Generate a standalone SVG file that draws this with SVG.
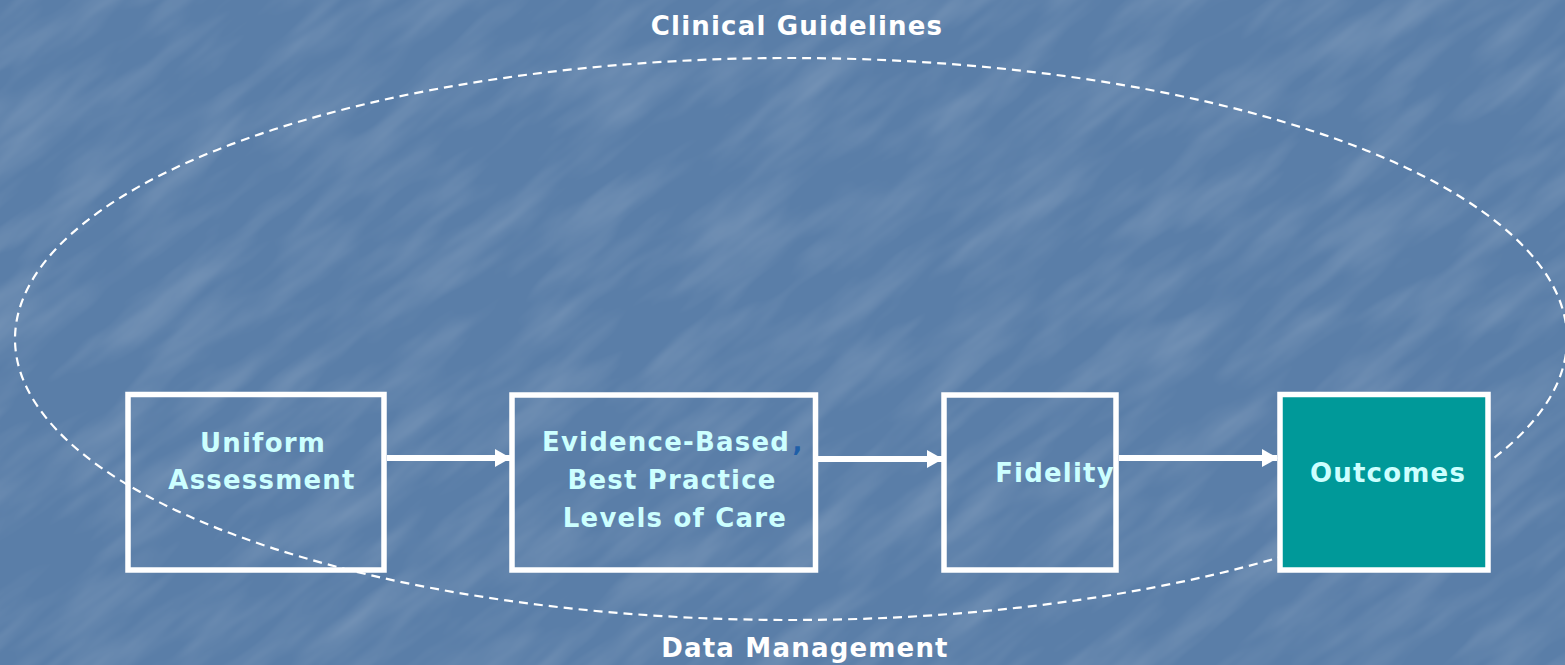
<svg xmlns="http://www.w3.org/2000/svg" width="1565" height="665" viewBox="0 0 1565 665">
  <defs>
    <style>
      .label { font-family: "DejaVu Sans", Verdana, sans-serif; font-weight: bold; font-size: 26px; letter-spacing: 1.2px; text-anchor: middle; }
      .box-text { fill: #ccffff; }
      .title { fill: #ffffff; }
      .box { fill: none; stroke: #ffffff; stroke-width: 5.5; }
      .box-filled { fill: #009999; stroke: #ffffff; stroke-width: 5.5; }
      .arrow { stroke: #ffffff; stroke-width: 6; fill: none; }
      .boundary { fill: none; stroke: #ffffff; stroke-width: 2.2; stroke-dasharray: 9 6; }
    </style>
    <!-- faint diagonal streaks for the backdrop -->
    <filter id="grain" x="0" y="0" width="100%" height="100%">
      <feTurbulence type="fractalNoise" baseFrequency="0.008 0.035" numOctaves="3" seed="11" result="noise"/>
      <feColorMatrix in="noise" type="matrix" values="0 0 0 0 1  0 0 0 0 1  0 0 0 0 1  0 0 0 0.28 -0.11"/>
    </filter>
    <clipPath id="canvas">
      <rect x="0" y="0" width="1565" height="665"/>
    </clipPath>
    <marker id="head" viewBox="0 0 16 18" refX="15" refY="9" markerWidth="16" markerHeight="18" markerUnits="userSpaceOnUse" orient="auto">
      <path d="M0,0 L16,9 L0,18 Z" fill="#ffffff"/>
    </marker>
  </defs>

  <!-- backdrop -->
  <rect x="0" y="0" width="1565" height="665" fill="#5a7ea8"/>
  <g clip-path="url(#canvas)">
    <rect x="-600" y="-900" width="2800" height="2400" filter="url(#grain)" transform="rotate(-38 782 332)"/>
  </g>

  <!-- dashed boundary -->
  <ellipse class="boundary" cx="791" cy="339" rx="776" ry="281"/>

  <g id="clinical-guidelines">
    <text class="label title" x="797" y="35">Clinical Guidelines</text>
  </g>
  <g id="data-management">
    <text class="label title" x="805" y="657">Data Management</text>
  </g>

  <g id="uniform-assessment">
    <rect class="box" x="128" y="394.5" width="256" height="175.5"/>
    <text class="label box-text" x="263" y="452">Uniform</text>
    <text class="label box-text" x="262" y="489">Assessment</text>
  </g>

  <g id="evidence-based">
    <rect class="box" x="512" y="395" width="303.5" height="175"/>
    <text class="label box-text" x="666" y="451">Evidence-Based</text>
    <text class="label" x="798" y="451" fill="#1f5fa8">,</text>
    <text class="label box-text" x="672" y="489">Best Practice</text>
    <text class="label box-text" x="675" y="527">Levels of Care</text>
  </g>

  <g id="fidelity">
    <rect class="box" x="944" y="395" width="172" height="175"/>
    <text class="label box-text" x="1055" y="482">Fidelity</text>
  </g>

  <g id="outcomes">
    <rect class="box-filled" x="1280" y="394.5" width="208" height="175.5"/>
    <text class="label box-text" x="1388" y="482">Outcomes</text>
  </g>

  <g id="connectors">
    <line class="arrow" x1="387" y1="458" x2="510" y2="458" marker-end="url(#head)"/>
    <line class="arrow" x1="818" y1="459" x2="942" y2="459" marker-end="url(#head)"/>
    <line class="arrow" x1="1119" y1="458" x2="1277" y2="458" marker-end="url(#head)"/>
  </g>
</svg>
